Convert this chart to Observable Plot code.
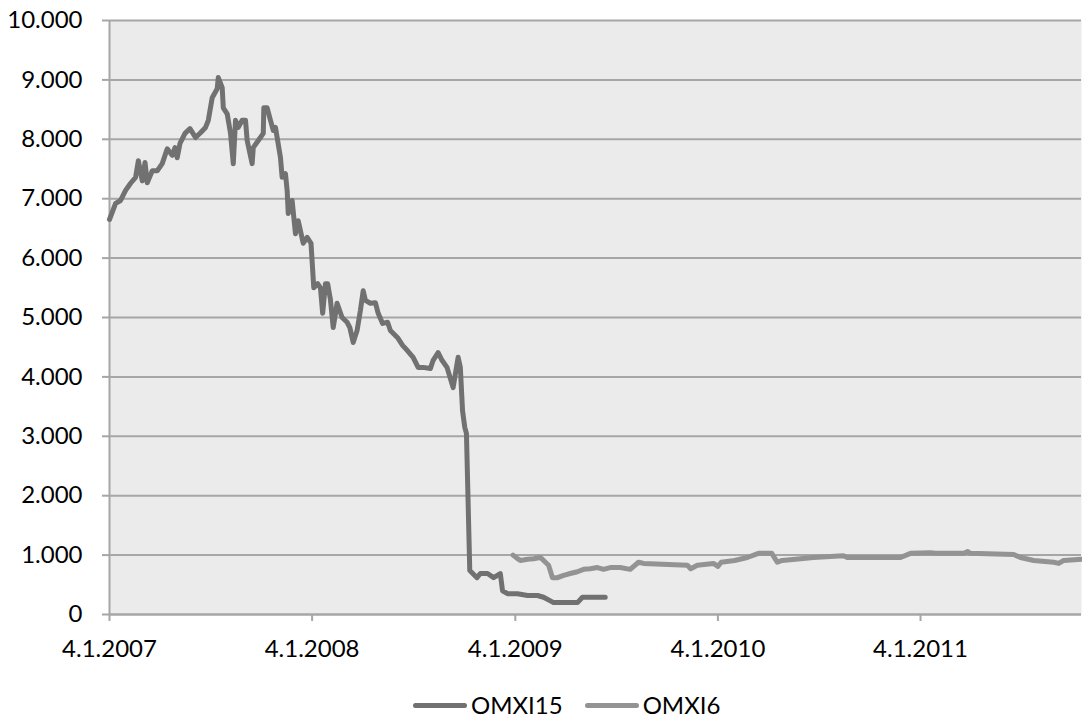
<!DOCTYPE html>
<html>
<head>
<meta charset="utf-8">
<script src="https://cdn.jsdelivr.net/npm/d3@7"></script>
<script src="https://cdn.jsdelivr.net/npm/@observablehq/plot@0.6"></script>
<style>
  html, body { margin: 0; padding: 0; background: #fff; }
  #wrap { position: relative; width: 1082px; height: 719px; overflow: hidden; font-family: Lato, "Liberation Sans", sans-serif; }
  #legend { position: absolute; left: 413px; top: 692px; display: flex; align-items: center; font-size: 24px; line-height: 26px; color: #000; }
  #legend .sw { display: inline-block; width: 54px; height: 5px; border-radius: 3px; margin-right: 4px; }
  #legend .item { display: flex; align-items: center; }
</style>
</head>
<body>
<div id="wrap"><div id="chart"></div><div id="legend"></div></div>
<script>
// OMXI15 closing levels (points)
const omxi15Dates = [
  "2007-01-04","2007-01-15","2007-01-24","2007-02-02","2007-02-11","2007-02-20","2007-02-25","2007-03-04",
  "2007-03-09","2007-03-13","2007-03-22","2007-03-31","2007-04-09","2007-04-18","2007-04-27","2007-05-02",
  "2007-05-06","2007-05-11","2007-05-20","2007-05-29","2007-06-08","2007-06-17","2007-06-26","2007-07-01",
  "2007-07-08","2007-07-17","2007-07-19","2007-07-26","2007-07-28","2007-08-04","2007-08-10","2007-08-15",
  "2007-08-19","2007-08-24","2007-08-31","2007-09-06","2007-09-09","2007-09-18","2007-09-20","2007-09-29",
  "2007-10-08","2007-10-09","2007-10-15","2007-10-21","2007-10-26","2007-10-30","2007-11-02","2007-11-08",
  "2007-11-11","2007-11-17","2007-11-20","2007-11-22","2007-11-29","2007-12-05","2007-12-10","2007-12-19",
  "2007-12-26","2008-01-02","2008-01-07","2008-01-14","2008-01-19","2008-01-23","2008-01-28","2008-02-01",
  "2008-02-06","2008-02-11","2008-02-18","2008-02-27","2008-03-07","2008-03-12","2008-03-18","2008-03-25",
  "2008-03-31","2008-04-05","2008-04-09","2008-04-18","2008-04-27","2008-05-02","2008-05-10","2008-05-19",
  "2008-05-24","2008-06-06","2008-06-15","2008-06-24","2008-07-04","2008-07-13","2008-07-22","2008-08-04",
  "2008-08-09","2008-08-18","2008-08-25","2008-09-03","2008-09-14","2008-09-23","2008-09-27","2008-10-01",
  "2008-10-05","2008-10-08","2008-10-14","2008-10-27","2008-11-02","2008-11-15","2008-11-26","2008-12-08",
  "2008-12-12","2008-12-21","2009-01-08","2009-01-26","2009-02-13","2009-02-24","2009-03-14","2009-04-01",
  "2009-04-26","2009-05-05","2009-06-15"
];
const omxi15Values = [
  6650, 6920, 6970, 7140, 7260, 7360, 7640, 7300,
  7610, 7270, 7470, 7470, 7590, 7840, 7730, 7860,
  7690, 7930, 8100, 8180, 8030, 8110, 8200, 8320,
  8700, 8850, 9040, 8870, 8530, 8430, 8100, 7590,
  8320, 8200, 8320, 8320, 7980, 7590, 7860, 7980,
  8100, 8530, 8530, 8320, 8150, 8200, 8030, 7690,
  7360, 7420, 7140, 6750, 6970, 6410, 6630, 6250,
  6350, 6250, 5500, 5570, 5500, 5070, 5570, 5570,
  5300, 4830, 5240, 5000, 4920, 4830, 4580, 4780,
  5120, 5450, 5290, 5240, 5250, 5070, 4900, 4920,
  4780, 4660, 4530, 4440, 4330, 4160, 4160, 4140,
  4280, 4410, 4280, 4160, 3820, 4330, 4160, 3430,
  3150, 3050, 740, 620, 690, 690, 620, 690,
  400, 350, 350, 320, 320, 290, 200, 200,
  200, 290, 290
];

// OMXI6 closing levels (points)
const omxi6Dates = [
  "2008-12-31","2009-01-08","2009-01-13","2009-01-26","2009-02-06","2009-02-18","2009-02-24","2009-03-05",
  "2009-03-12","2009-03-21","2009-04-01","2009-04-13","2009-04-26","2009-05-07","2009-05-19","2009-06-01",
  "2009-06-12","2009-06-24","2009-07-12","2009-07-30","2009-08-14","2009-08-23","2009-11-10","2009-11-16",
  "2009-11-28","2009-12-27","2010-01-04","2010-01-10","2010-02-03","2010-02-26","2010-03-18","2010-04-11",
  "2010-04-21","2010-04-30","2010-06-02","2010-06-25","2010-08-18","2010-08-25","2010-11-29","2010-12-17",
  "2011-01-22","2011-01-31","2011-03-23","2011-03-30","2011-04-04","2011-06-21","2011-07-03","2011-07-27",
  "2011-09-01","2011-09-10","2011-09-19","2011-10-21"
];
const omxi6Values = [
  1000, 940, 910, 930, 940, 960, 910, 830,
  620, 620, 660, 690, 720, 760, 770, 790,
  760, 790, 790, 760, 880, 860, 830, 770,
  830, 860, 810, 880, 910, 960, 1030, 1030,
  880, 910, 940, 960, 990, 960, 960, 1030,
  1040, 1030, 1030, 1060, 1030, 1010, 960, 910,
  880, 860, 910, 930
];

const seriesNames = ["OMXI15", "OMXI6"];
const seriesColors = ["#717171", "#939393"];
const yTicks = [0, 1000, 2000, 3000, 4000, 5000, 6000, 7000, 8000, 9000, 10000];
const xTickDates = ["2007-01-04", "2008-01-04", "2009-01-04", "2010-01-04", "2011-01-04"];
const xDomain = ["2007-01-04", "2011-10-21"];

const toRows = (dates, values) => dates.map((d, i) => ({date: new Date(d), value: values[i]}));
const omxi15 = toRows(omxi15Dates, omxi15Values);
const omxi6 = toRows(omxi6Dates, omxi6Values);
const xTicks = xTickDates.map(d => new Date(d));

const fmtY = v => d3.format(",")(v).replace(/,/g, ".");
const fmtX = d => `${d.getUTCDate()}.${d.getUTCMonth() + 1}.${d.getUTCFullYear()}`;
const axisColor = "#a6a6a6";

const chart = Plot.plot({
  width: 1082,
  height: 662,
  marginLeft: 109,
  marginRight: 1,
  marginTop: 20,
  marginBottom: 48,
  style: {fontFamily: "Lato, 'Liberation Sans', sans-serif", fontSize: "24px", color: "#000", background: "#fff", overflow: "visible"},
  x: {type: "utc", domain: xDomain.map(d => new Date(d))},
  y: {domain: [0, 10000]},
  marks: [
    Plot.frame({fill: "#ebebeb", stroke: null}),
    Plot.gridY(yTicks, {stroke: axisColor, strokeOpacity: 1, strokeWidth: 2}),
    Plot.ruleX([xTicks[0]], {stroke: axisColor, strokeWidth: 2}),
    Plot.axisY(yTicks, {tickSize: 7, tickPadding: 20, tickFormat: fmtY, stroke: axisColor, strokeWidth: 2, label: null}),
    Plot.axisX(xTicks, {tickSize: 7, tickPadding: 18, tickFormat: fmtX, stroke: axisColor, strokeWidth: 2, label: null}),
    Plot.ruleY([0], {stroke: axisColor, strokeWidth: 2}),
    Plot.lineY(omxi15, {x: "date", y: "value", stroke: seriesColors[0], strokeWidth: 5}),
    Plot.lineY(omxi6, {x: "date", y: "value", stroke: seriesColors[1], strokeWidth: 5})
  ]
});
document.getElementById("chart").appendChild(chart);

// Legend below the plot
const legend = d3.select("#legend");
seriesNames.forEach((name, i) => {
  const item = legend.append("div").attr("class", "item").style("margin-right", i === 0 ? "22px" : "0");
  item.append("span").attr("class", "sw").style("background", seriesColors[i]);
  item.append("span").text(name);
});
</script>
</body>
</html>
